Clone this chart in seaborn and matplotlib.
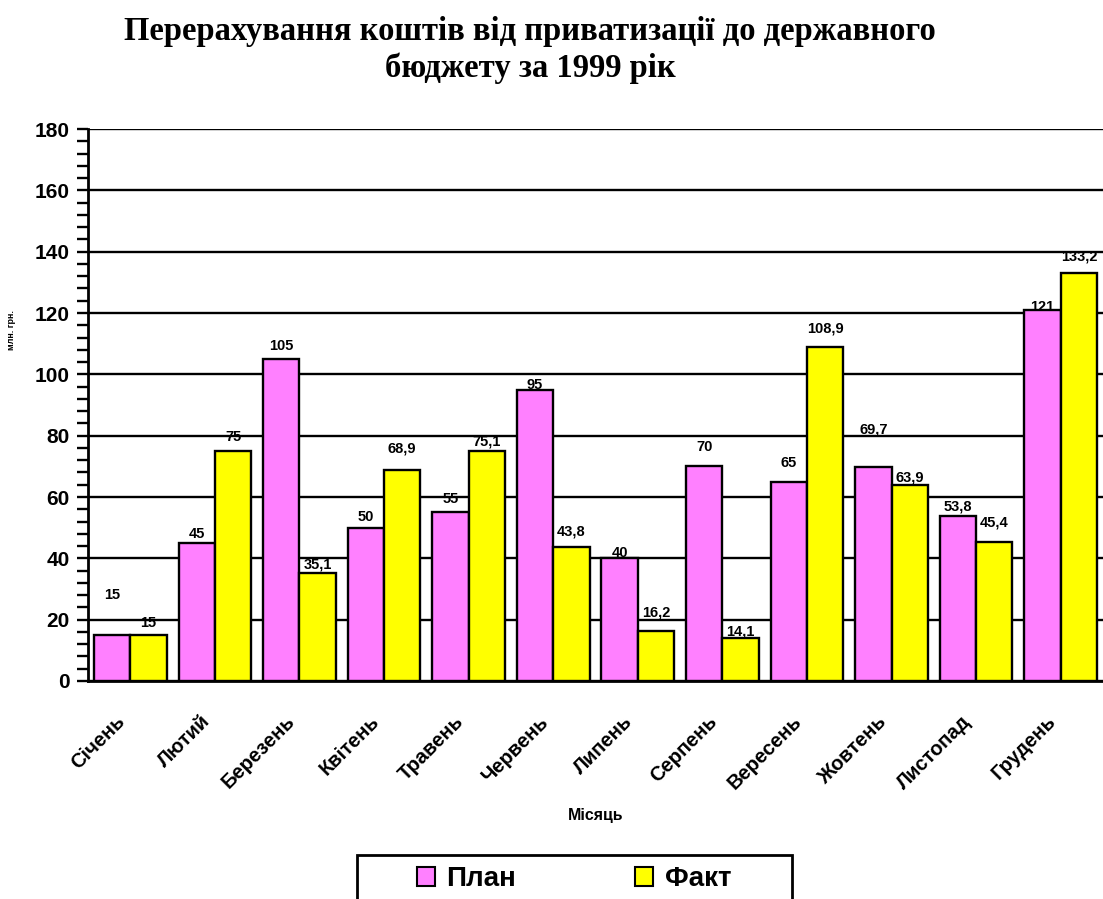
import matplotlib.pyplot as plt
import matplotlib.transforms as mtransforms
import numpy as np
import pandas as pd
import seaborn as sns
from matplotlib.patches import Patch, Rectangle
from matplotlib.ticker import FixedLocator, MultipleLocator

months = ["Січень", "Лютий", "Березень", "Квітень", "Травень", "Червень",
          "Липень", "Серпень", "Вересень", "Жовтень", "Листопад", "Грудень"]
plan = [15, 45, 105, 50, 55, 95, 40, 70, 65, 69.7, 53.8, 121]
fact = [15, 75, 35.1, 68.9, 75.1, 43.8, 16.2, 14.1, 108.9, 63.9, 45.4, 133.2]
series = ["План", "Факт"]
colors = {"План": "#ff80ff", "Факт": "#ffff00"}

# value labels sit at uneven heights in the original, pixels above bar top
plan_lift = [40, 9, 13, 11, 13, 5, 5, 19, 19, 38, 10, 3]
fact_lift = [12, 14, 9, 21, 9, 15, 19, 6, 19, 8, 19, 16]

df = pd.DataFrame({
    "month": months * 2,
    "series": [series[0]] * len(months) + [series[1]] * len(months),
    "value": plan + fact,
})

sns.set_style("white")
plt.rcParams["font.family"] = ["Liberation Sans", "DejaVu Sans"]
plt.rcParams["font.weight"] = "bold"
for key in ["text.color", "axes.labelcolor", "xtick.color", "ytick.color"]:
    plt.rcParams[key] = "black"

fig = plt.figure(figsize=(11.03, 8.99), dpi=100)
W, H = 1103, 899
ax = fig.add_axes([88 / W, 1 - 681 / H, (W - 88) / W, (681 - 129) / H])

sns.barplot(data=df, x="month", y="value", hue="series", hue_order=series,
            order=months, palette=colors, saturation=1, width=0.86, gap=0,
            edgecolor="black", linewidth=1.7, legend=False, ax=ax)

for container, lifts in zip(ax.containers, [plan_lift, fact_lift]):
    for bar, lift in zip(container, lifts):
        v = bar.get_height()
        ax.annotate(f"{v:g}".replace(".", ","),
                    xy=(bar.get_x() + bar.get_width() / 2, v),
                    xytext=(0, lift), textcoords="offset pixels",
                    ha="center", va="center", fontsize=10.5, fontweight="bold")

ax.set_xlim(-0.5, len(months) - 0.5)
ax.set_ylim(0, 180)
ax.yaxis.set_major_locator(MultipleLocator(20))
ax.yaxis.set_minor_locator(MultipleLocator(4))
ax.yaxis.grid(True, which="major", color="black", linewidth=1.7)
ax.set_axisbelow(True)

ax.set_xticks(range(len(months)))
ax.set_xticklabels(months, rotation=45, ha="right", va="center",
                   rotation_mode="anchor", fontsize=14.5, fontweight="bold")
ax.xaxis.set_minor_locator(FixedLocator(np.arange(-0.5, len(months), 1)))
ax.tick_params(axis="x", which="major", length=0, pad=27)
ax.tick_params(axis="x", which="minor", length=7, width=1.7, direction="out")
ax.tick_params(axis="y", which="both", length=8, width=1.7, direction="out",
               labelsize=15, pad=5, left=True)
for lbl in ax.get_yticklabels():
    lbl.set_fontweight("bold")
# month names end a little left of the group centre in the original
shift = mtransforms.ScaledTranslation(-8 / 100, 0, fig.dpi_scale_trans)
for lbl in ax.get_xticklabels():
    lbl.set_transform(lbl.get_transform() + shift)

for side in ["top", "right"]:
    ax.spines[side].set_visible(False)
for side in ["left", "bottom"]:
    ax.spines[side].set_color("black")
    ax.spines[side].set_linewidth(2)

ax.set_xlabel("Місяць", fontsize=11.5, fontweight="bold")
ax.xaxis.set_label_coords(0.5, -(808 - 681) / (681 - 129))
ax.set_ylabel("млн. грн.", fontsize=6.5, fontweight="bold")
ax.yaxis.set_label_coords(-(88 - 16) / (W - 88), (681 - 330) / (681 - 129))

fig.text(530 / W, 1 - 50 / H,
         "Перерахування коштів від приватизації до державного\nбюджету за 1999 рік",
         ha="center", va="center", fontsize=23.5, fontweight="bold",
         family="Liberation Serif", linespacing=1.2)

handles = [Patch(facecolor=colors[s], edgecolor="black", linewidth=1.5, label=s)
           for s in series]
fig.legend(handles=handles, loc="center", bbox_to_anchor=(574 / W, 1 - 879 / H),
           ncol=2, frameon=False, prop={"size": 20, "weight": "bold"},
           handlelength=0.65, handleheight=0.65, handletextpad=0.4,
           columnspacing=4.3)
fig.patches.append(Rectangle((357 / W, -0.02), (792 - 357) / W, 0.02 + (899 - 855) / H,
                             transform=fig.transFigure, fill=False,
                             edgecolor="black", linewidth=2))

fig.savefig("out.png", dpi=100)
